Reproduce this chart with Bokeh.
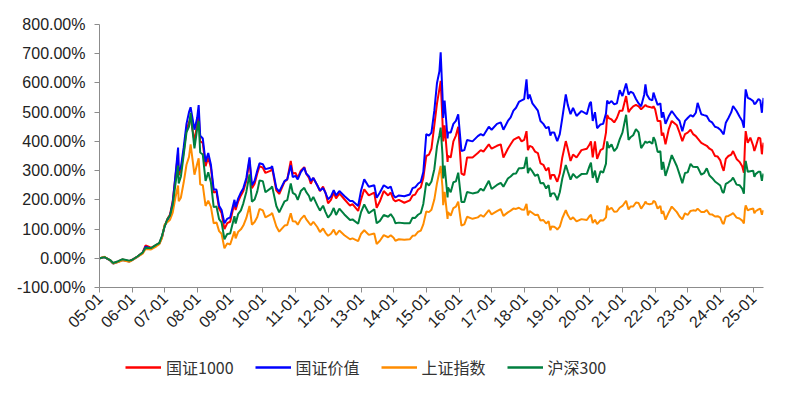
import pandas as pd
from bokeh.plotting import figure
from bokeh.layouts import column
from bokeh.models import (ColumnDataSource, FixedTicker, PrintfTickFormatter,
                          DatetimeTickFormatter, Legend, LegendItem, Range1d)
from bokeh.embed import file_html
from bokeh.resources import INLINE
import math

dates = [
    "2005-01-04", "2005-02-25", "2005-04-29", "2005-06-03", "2005-07-29", "2005-09-16", "2005-11-30", "2005-12-30",
    "2006-02-28", "2006-04-28", "2006-05-31", "2006-07-31", "2006-09-29", "2006-10-31", "2006-11-30", "2006-12-29",
    "2007-01-31", "2007-02-28", "2007-03-30", "2007-04-30", "2007-05-29", "2007-06-05", "2007-06-29", "2007-07-31",
    "2007-08-31", "2007-09-28", "2007-10-16", "2007-11-28", "2007-12-28", "2008-01-14", "2008-01-31", "2008-02-29",
    "2008-03-31", "2008-04-30", "2008-05-30", "2008-06-30", "2008-07-31", "2008-08-29", "2008-09-26", "2008-10-28",
    "2008-11-28", "2008-12-31", "2009-02-17", "2009-03-02", "2009-03-31", "2009-04-30", "2009-05-27", "2009-06-30",
    "2009-08-04", "2009-08-31", "2009-09-30", "2009-10-30", "2009-11-24", "2009-12-31", "2010-01-29", "2010-03-31",
    "2010-04-14", "2010-05-31", "2010-07-02", "2010-08-31", "2010-09-30", "2010-11-08", "2010-11-30", "2010-12-31",
    "2011-01-25", "2011-02-28", "2011-04-08", "2011-04-29", "2011-05-31", "2011-06-20", "2011-07-18", "2011-08-31",
    "2011-09-30", "2011-11-04", "2011-11-30", "2011-12-30", "2012-01-31", "2012-03-02", "2012-03-28", "2012-05-04",
    "2012-06-29", "2012-08-31", "2012-09-28", "2012-11-30", "2012-12-31", "2013-02-06", "2013-03-29", "2013-05-29",
    "2013-06-25", "2013-07-31", "2013-09-12", "2013-10-31", "2013-11-29", "2013-12-31", "2014-01-20", "2014-02-28",
    "2014-04-30", "2014-06-30", "2014-07-31", "2014-08-29", "2014-09-30", "2014-10-31", "2014-11-28", "2014-12-31",
    "2015-01-30", "2015-02-27", "2015-03-31", "2015-04-30", "2015-05-27", "2015-06-10", "2015-06-30", "2015-07-08",
    "2015-07-24", "2015-08-26", "2015-08-31", "2015-09-30", "2015-10-30", "2015-11-27", "2015-12-23", "2016-01-28",
    "2016-02-29", "2016-03-31", "2016-05-31", "2016-07-29", "2016-08-31", "2016-09-30", "2016-11-29", "2016-12-30",
    "2017-02-28", "2017-04-11", "2017-05-11", "2017-06-30", "2017-07-31", "2017-08-31", "2017-09-29", "2017-10-31",
    "2017-11-30", "2017-12-29", "2018-01-24", "2018-02-09", "2018-02-28", "2018-03-31", "2018-04-30", "2018-05-31",
    "2018-06-29", "2018-07-31", "2018-08-31", "2018-09-28", "2018-10-18", "2018-10-31", "2018-11-30", "2018-12-28",
    "2019-01-03", "2019-01-31", "2019-02-28", "2019-04-08", "2019-04-30", "2019-05-31", "2019-06-28", "2019-08-06",
    "2019-09-30", "2019-11-29", "2019-12-31", "2020-01-14", "2020-02-03", "2020-02-28", "2020-03-23", "2020-04-30",
    "2020-05-29", "2020-06-30", "2020-07-13", "2020-07-31", "2020-08-31", "2020-09-30", "2020-10-30", "2020-11-30",
    "2020-12-31", "2021-02-10", "2021-03-09", "2021-03-31", "2021-04-30", "2021-05-31", "2021-06-30", "2021-07-28",
    "2021-08-31", "2021-09-14", "2021-09-30", "2021-10-29", "2021-11-30", "2021-12-13", "2021-12-31", "2022-01-28",
    "2022-02-28", "2022-03-15", "2022-03-31", "2022-04-26", "2022-05-31", "2022-07-05", "2022-08-31", "2022-09-30",
    "2022-10-31", "2022-11-30", "2022-12-30", "2023-01-31", "2023-02-28", "2023-03-31", "2023-04-20", "2023-05-31",
    "2023-06-30", "2023-07-31", "2023-08-31", "2023-09-28", "2023-10-31", "2023-11-30", "2023-12-29", "2024-01-22",
    "2024-02-05", "2024-02-29", "2024-03-29", "2024-04-30", "2024-05-20", "2024-06-28", "2024-07-31", "2024-08-30",
    "2024-09-18", "2024-09-30", "2024-10-08", "2024-10-31", "2024-11-29", "2024-12-31", "2025-01-13", "2025-01-27",
    "2025-02-28", "2025-03-20", "2025-04-07", "2025-04-25",
]

# 国证1000 (%)
gz1000 = [
    0, 4, -6, -17, -11, -4, -10, -5,
    6, 20, 44, 36, 46, 52, 72, 110,
    135, 150, 195, 280, 360, 285, 300, 365,
    440, 465, 480, 400, 460, 495, 400, 395,
    315, 345, 310, 225, 228, 170, 155, 100,
    120, 125, 190, 165, 195, 215, 230, 265,
    335, 240, 255, 290, 315, 310, 292, 300,
    308, 232, 220, 262, 270, 333, 290, 292,
    275, 300, 312, 290, 275, 255, 275, 250,
    230, 245, 225, 188, 200, 225, 205, 222,
    202, 180, 185, 162, 200, 236, 215, 225,
    173, 195, 230, 215, 225, 200, 195, 200,
    190, 198, 215, 218, 235, 242, 275, 350,
    355, 375, 455, 530, 580, 607, 470, 400,
    455, 330, 350, 345, 400, 420, 450, 290,
    285, 345, 345, 360, 370, 365, 390, 375,
    385, 390, 345, 375, 390, 405, 410, 415,
    400, 405, 435, 370, 385, 380, 365, 360,
    325, 320, 300, 310, 270, 285, 285, 265,
    262, 290, 345, 401, 375, 333, 355, 345,
    370, 375, 390, 400, 345, 400, 340, 370,
    375, 430, 490, 480, 475, 465, 480, 505,
    505, 555, 500, 510, 520, 525, 520, 510,
    520, 525, 520, 518, 515, 520, 510, 470,
    470, 420, 430, 390, 440, 470, 455, 430,
    401, 425, 430, 440, 425, 418, 410, 395,
    390, 385, 375, 370, 350, 348, 335, 310,
    299, 340, 350, 355, 367, 340, 330, 315,
    293, 390, 435, 395, 413, 385, 367, 380,
    413, 410, 356, 396,
]

# 国证价值 (%)
gzjz = [
    0, 4, -7, -18, -12, -6, -11, -6,
    5, 18, 40, 33, 44, 50, 72, 110,
    130, 145, 190, 285, 379, 300, 310, 380,
    460, 500, 517, 440, 480, 524, 420, 410,
    330, 360, 320, 235, 235, 180, 165, 120,
    135, 140, 200, 175, 205, 225, 240, 275,
    345, 250, 265, 300, 325, 322, 305, 310,
    315, 240, 228, 265, 270, 318, 278, 282,
    270, 295, 310, 290, 280, 265, 275, 250,
    232, 240, 225, 202, 212, 233, 215, 230,
    213, 196, 196, 179, 230, 270, 245, 250,
    207, 225, 250, 240, 245, 215, 208, 215,
    212, 218, 240, 243, 255, 262, 295, 425,
    420, 430, 505, 600, 640, 705, 560, 480,
    540, 410, 430, 430, 460, 470, 493, 367,
    370, 405, 400, 418, 425, 420, 450, 440,
    460, 465, 440, 470, 482, 505, 515, 535,
    540, 545, 612, 545, 560, 530, 518, 505,
    470, 460, 445, 450, 420, 430, 430, 405,
    401, 425, 480, 561, 525, 493, 515, 487,
    504, 493, 530, 535, 470, 500, 445, 458,
    460, 495, 540, 530, 538, 527, 530, 575,
    555, 598, 560, 570, 565, 545, 530, 520,
    560, 595, 560, 545, 540, 567, 550, 525,
    530, 481, 500, 460, 485, 504, 480, 470,
    435, 470, 480, 490, 485, 498, 532, 493,
    490, 487, 470, 465, 450, 447, 440, 430,
    424, 464, 480, 500, 521, 504, 485, 470,
    447, 540, 578, 549, 545, 538, 527, 530,
    545, 540, 498, 549,
]

# 上证指数 (%)
szzs = [
    0, 5, -7, -18, -13, -7, -12, -7,
    5, 16, 32, 30, 41, 48, 69, 115,
    124, 132, 156, 209, 249, 195, 207, 260,
    320, 347, 390, 286, 323, 342, 253, 250,
    179, 197, 176, 120, 123, 93, 84, 34,
    51, 47, 92, 68, 91, 99, 112, 138,
    179, 115, 124, 141, 169, 164, 140, 150,
    155, 109, 91, 112, 114, 154, 127, 126,
    115, 134, 147, 134, 121, 113, 125, 107,
    90, 102, 88, 77, 84, 98, 80, 95,
    79, 65, 68, 59, 83, 96, 80, 85,
    49, 60, 79, 72, 79, 70, 60, 65,
    63, 65, 77, 78, 90, 95, 116, 160,
    158, 166, 201, 257, 297, 316, 244, 182,
    227, 135, 158, 146, 172, 177, 194, 112,
    116, 142, 135, 140, 148, 142, 165, 150,
    161, 168, 145, 157, 163, 170, 169, 173,
    167, 166, 186, 147, 162, 155, 148, 149,
    129, 131, 119, 127, 96, 109, 108, 101,
    98, 108, 137, 165, 148, 133, 140, 126,
    134, 131, 145, 149, 121, 132, 117, 130,
    129, 140, 180, 166, 173, 159, 160, 173,
    179, 197, 167, 177, 177, 191, 189, 170,
    185, 194, 187, 185, 187, 196, 193, 170,
    179, 152, 162, 132, 156, 177, 158, 143,
    133, 154, 148, 162, 164, 163, 170, 158,
    158, 165, 151, 150, 143, 144, 139, 121,
    117, 143, 145, 150, 155, 139, 136, 129,
    119, 168, 181, 164, 168, 170, 154, 161,
    167, 170, 149, 165,
]

# 沪深300 (%)
hs300 = [
    0, 4, -6, -16, -10, -3, -8, -6,
    6, 20, 36, 35, 47, 52, 77, 108,
    135, 146, 183, 255, 317, 256, 279, 355,
    431, 451, 498, 376, 443, 470, 362, 355,
    265, 294, 259, 175, 177, 134, 123, 65,
    83, 85, 144, 119, 152, 164, 188, 228,
    287, 194, 201, 229, 266, 264, 226, 240,
    246, 179, 157, 195, 199, 256, 224, 218,
    200, 230, 241, 227, 213, 195, 210, 181,
    163, 180, 159, 139, 151, 172, 148, 170,
    150, 131, 133, 118, 157, 184, 154, 168,
    120, 128, 148, 142, 151, 137, 120, 122,
    120, 120, 139, 138, 149, 155, 186, 259,
    249, 263, 305, 383, 421, 447, 355, 273,
    317, 208, 242, 226, 260, 263, 293, 193,
    193, 227, 222, 226, 238, 231, 265, 237,
    251, 258, 245, 273, 280, 289, 290, 308,
    308, 310, 347, 291, 309, 297, 282, 287,
    257, 258, 239, 250, 210, 221, 223, 206,
    199, 226, 273, 319, 298, 269, 289, 275,
    288, 289, 317, 327, 275, 300, 259, 298,
    293, 324, 400, 378, 390, 367, 378, 407,
    430, 491, 405, 414, 421, 442, 431, 377,
    393, 400, 395, 399, 392, 414, 403, 364,
    366, 303, 330, 282, 316, 353, 315, 287,
    257, 292, 294, 323, 313, 312, 312, 286,
    291, 308, 283, 275, 263, 256, 249, 227,
    224, 255, 260, 267, 276, 252, 250, 238,
    221, 309, 333, 296, 298, 300, 279, 288,
    296, 296, 265, 290,
]

series_names = ["国证1000", "国证价值", "上证指数", "沪深300"]
series_colors = ["#FF0000", "#0000FF", "#FF8C00", "#007F3F"]
year_ticks = [f"{y}-01-01" for y in range(2005, 2026)]
y_ticks = [-100, 0, 100, 200, 300, 400, 500, 600, 700, 800]

x = pd.to_datetime(pd.Series(dates))
source = ColumnDataSource(data=dict(x=x, s0=gz1000, s1=gzjz, s2=szzs, s3=hs300))

def ms(s):
    return pd.Timestamp(s).value / 1e6

H1 = 343
p = figure(width=784, height=H1, output_backend="svg", toolbar_location=None,
           x_range=Range1d(ms("2005-01-01"), ms(dates[-1])),
           y_range=Range1d(-100, 800))
p.min_border_left = 99
p.min_border_right = 21
p.min_border_top = 24
p.min_border_bottom = H1 - 287
p.outline_line_color = None
p.background_fill_color = "white"
p.border_fill_color = "white"
p.xgrid.visible = False
p.ygrid.visible = False

for i, (name, col) in enumerate(zip(series_names, series_colors)):
    p.line("x", f"s{i}", source=source, line_color=col, line_width=2)

# axes
p.xaxis.ticker = FixedTicker(ticks=[ms(t) for t in year_ticks])
p.xaxis.formatter = DatetimeTickFormatter(
    microseconds="%y-%m", milliseconds="%y-%m", seconds="%y-%m", minsec="%y-%m",
    minutes="%y-%m", hourmin="%y-%m", hours="%y-%m", days="%y-%m",
    months="%y-%m", years="%y-%m")
p.xaxis.major_label_orientation = math.pi / 4
p.yaxis.ticker = FixedTicker(ticks=y_ticks)
p.yaxis.formatter = PrintfTickFormatter(format="%.2f%%")

for ax in (p.xaxis[0], p.yaxis[0]):
    ax.axis_line_color = "#8C8C8C"
    ax.axis_line_width = 1
    ax.major_tick_line_color = "#8C8C8C"
    ax.major_tick_out = 5
    ax.major_tick_in = 0
    ax.minor_tick_line_color = None
    ax.major_label_text_font = "Liberation Sans"
    ax.major_label_text_font_size = "16px"
    ax.major_label_text_color = "#222222"
p.yaxis.major_label_standoff = 9
p.xaxis.major_label_standoff = 3

# legend strip below the chart (same series, drawn off-range so only the legend shows)
H2 = 47
lf = figure(width=784, height=H2, output_backend="svg", toolbar_location=None,
            x_range=Range1d(0, 1), y_range=Range1d(0, 1))
lf.min_border = 0
lf.axis.visible = False
lf.grid.visible = False
lf.outline_line_color = None
lf.border_fill_color = "white"
lf.background_fill_color = "white"
leg_renderers = [lf.line("x", f"s{i}", source=source, line_color=c, line_width=2.5)
                 for i, c in enumerate(series_colors)]
legend = Legend(items=[LegendItem(label=n, renderers=[r]) for n, r in zip(series_names, leg_renderers)],
                orientation="horizontal", location=(26, 11))
legend.glyph_width = 36
legend.glyph_height = 20
legend.label_standoff = 5
legend.spacing = 21
legend.padding = 0
legend.margin = 0
legend.border_line_color = None
legend.background_fill_alpha = 0
legend.label_text_font = "Noto Sans CJK SC"
legend.label_text_font_size = "16px"
legend.label_text_color = "#333333"
lf.add_layout(legend, "center")

layout = column(p, lf, spacing=0)
open("out.html", "w").write(file_html(layout, INLINE))
